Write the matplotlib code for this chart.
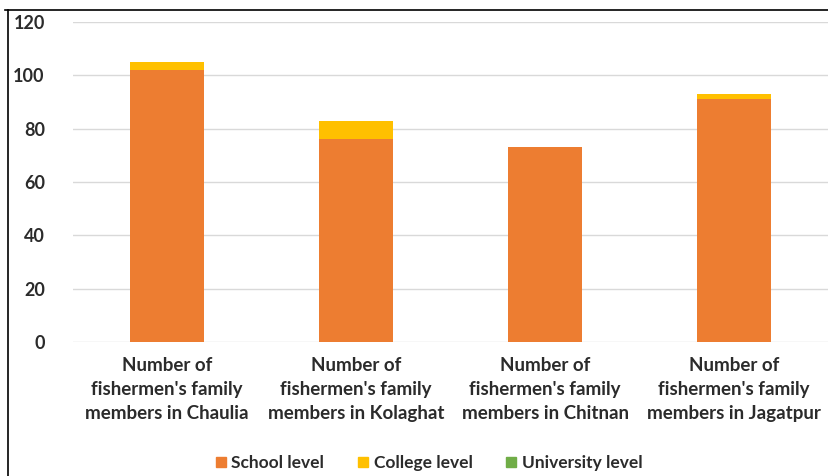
import matplotlib.pyplot as plt
import numpy as np
from matplotlib.lines import Line2D

plt.rcParams['font.family'] = ['Lato', 'DejaVu Sans']

# Education level of fishermen's family members by village
villages = ["Chaulia", "Kolaghat", "Chitnan", "Jagatpur"]
school = [102, 76, 73, 91]
college = [3, 7, 0, 2]
university = [0, 0, 0, 0]
yticks = [0, 20, 40, 60, 80, 100, 120]

colors = {"School level": "#ED7D31", "College level": "#FFC000", "University level": "#70AD47"}
text_color = "#2b2b2b"

fig = plt.figure(figsize=(8.29, 4.76), dpi=100)
ax = fig.add_axes([0.0875, 0.2815, 0.912, 0.6723])

x = np.arange(len(villages))
w = 0.39
bottom = np.zeros(len(villages))
for name, vals in zip(colors, [school, college, university]):
    ax.bar(x, vals, w, bottom=bottom, color=colors[name], label=name, zorder=3)
    bottom += np.array(vals)

ax.set_ylim(0, 120)
ax.set_xlim(-0.5, len(villages) - 0.5)
ax.set_yticks(yticks)
ax.yaxis.grid(True, color="#D9D9D9", linewidth=1, zorder=0)
for s in ax.spines.values():
    s.set_visible(False)
ax.tick_params(axis="both", length=0)
ax.tick_params(axis="y", pad=20, labelsize=13, labelcolor=text_color)
for lbl in ax.get_yticklabels():
    lbl.set_fontweight("bold")

ax.set_xticks(x)
ax.set_xticklabels([f"Number of\nfishermen's family\nmembers in {v}" for v in villages],
                   fontsize=13.5, fontweight="bold", color=text_color, linespacing=1.5)
ax.tick_params(axis="x", pad=11)

handles = [Line2D([], [], marker="s", linestyle="", markersize=7, color=c) for c in colors.values()]
leg = fig.legend(handles, list(colors), loc="center", bbox_to_anchor=(0.517, 0.027), ncol=3,
                 frameon=False, handlelength=0.7, handletextpad=0.25, columnspacing=1.9,
                 prop={"weight": "bold", "size": 12.5})
for t in leg.get_texts():
    t.set_color(text_color)

# thin frame along top and left edges
fig.add_artist(Line2D([5 / 829, 1], [1 - 10 / 476, 1 - 10 / 476], color="black", linewidth=1.2,
                      transform=fig.transFigure))
fig.add_artist(Line2D([8 / 829, 8 / 829], [0, 1 - 10 / 476], color="black", linewidth=1.2,
                      transform=fig.transFigure))

fig.savefig("out.png", dpi=100)
